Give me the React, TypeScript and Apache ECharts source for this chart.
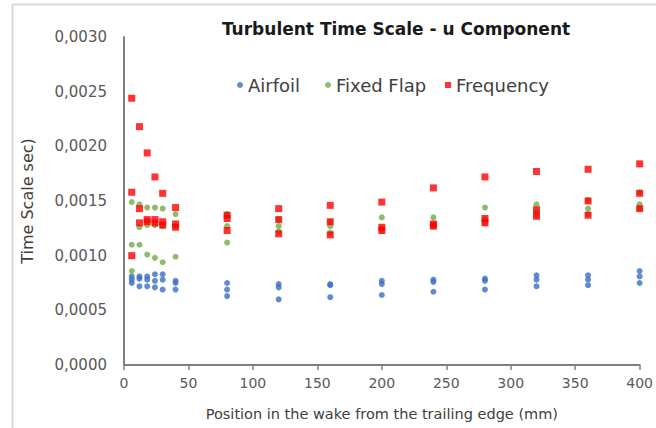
import React, { useEffect, useRef } from "react";
import * as echarts from "echarts";

const positions = [6, 12, 18, 24, 30, 40, 80, 120, 160, 200, 240, 280, 320, 360, 400];

const airfoilA = [0.00081, 0.00081, 0.00081, 0.00083, 0.00083, 0.00077, 0.00075, 0.00074, 0.00074, 0.00077, 0.00078, 0.00079, 0.00082, 0.00082, 0.00086];
const airfoilB = [0.00078, 0.00079, 0.00078, 0.00077, 0.00078, 0.00075, 0.00069, 0.00071, 0.00073, 0.00074, 0.00076, 0.00077, 0.00078, 0.00078, 0.00081];
const airfoilC = [0.00075, 0.00072, 0.00072, 0.00071, 0.00069, 0.00069, 0.00063, 0.0006, 0.00062, 0.00064, 0.00067, 0.00069, 0.00072, 0.00073, 0.00075];

const flapA = [0.00149, 0.00147, 0.00144, 0.00144, 0.00143, 0.00138, 0.00138, 0.00133, 0.00131, 0.00135, 0.00135, 0.00144, 0.00147, 0.00151, 0.00158];
const flapB = [0.0011, 0.00126, 0.00128, 0.00128, 0.00127, 0.00127, 0.00127, 0.00127, 0.00127, 0.00125, 0.00129, 0.00133, 0.0014, 0.00143, 0.00147];
const flapC = [0.00086, 0.0011, 0.00101, 0.00098, 0.00094, 0.00099, 0.00112, 0.00122, 0.00121, 0.00123, 0.00127, 0.0013, 0.00137, 0.00138, 0.00143];

const freqA = [0.00244, 0.00218, 0.00194, 0.00172, 0.00157, 0.00144, 0.00137, 0.00143, 0.00146, 0.00149, 0.00162, 0.00172, 0.00177, 0.00179, 0.00184];
const freqB = [0.00158, 0.00143, 0.00133, 0.00133, 0.00131, 0.00129, 0.00134, 0.00133, 0.00131, 0.00126, 0.00129, 0.00134, 0.00142, 0.0015, 0.00157];
const freqC = [0.001, 0.0013, 0.00131, 0.0013, 0.00128, 0.00126, 0.00123, 0.0012, 0.00119, 0.00123, 0.00127, 0.0013, 0.00136, 0.00137, 0.00143];

const seriesNames = ["Airfoil", "Fixed Flap", "Frequency"];
const yTicks = { min: 0, max: 0.003, interval: 0.0005 };
const xTicks = { min: 0, max: 400, interval: 50 };

const pairs = (...lists: number[][]) => {
  const out: number[][] = [];
  lists.forEach((l) => l.forEach((v, i) => out.push([positions[i], v])));
  return out;
};

export default function App() {
  const ref = useRef<HTMLDivElement>(null);
  useEffect(() => {
    if (!ref.current) return;
    const chart = echarts.init(ref.current, null, { renderer: "svg" });
    const font = "'DejaVu Sans', sans-serif";
    const legendLefts = [232, 320, 440];
    chart.setOption({
      animation: false,
      backgroundColor: "#ffffff",
      textStyle: { fontFamily: font },
      title: {
        text: "Turbulent Time Scale - u Component",
        left: 391,
        textAlign: "center",
        top: 15,
        textStyle: { fontSize: 17, fontWeight: "bold", color: "#1a1a1a", fontFamily: font },
      },
      legend: seriesNames.map((name, i) => ({
        data: [name],
        left: legendLefts[i],
        top: 71,
        itemWidth: 6,
        itemHeight: 6,
        textStyle: { fontSize: 18, color: "#404040", fontFamily: font },
      })),
      grid: { left: 124, right: 14, top: 37, bottom: 63 },
      xAxis: {
        type: "value",
        min: xTicks.min,
        max: xTicks.max,
        interval: xTicks.interval,
        name: "Position in the wake from the trailing edge (mm)",
        nameLocation: "middle",
        nameGap: 41,
        nameTextStyle: { fontSize: 14.5, color: "#404040" },
        axisLine: { lineStyle: { color: "#7f7f7f", width: 2 } },
        axisTick: { show: true, length: 5, lineStyle: { color: "#7f7f7f", width: 1.5 } },
        axisLabel: { fontSize: 14, color: "#595959", margin: 11 },
        splitLine: { show: false },
      },
      yAxis: {
        type: "value",
        min: yTicks.min,
        max: yTicks.max,
        interval: yTicks.interval,
        name: "Time Scale sec)",
        nameLocation: "middle",
        nameGap: 89,
        nameTextStyle: { fontSize: 16, color: "#404040" },
        axisLine: { show: true, lineStyle: { color: "#7f7f7f", width: 2 } },
        axisTick: { show: false },
        axisLabel: {
          fontSize: 15,
          color: "#595959",
          margin: 17,
          formatter: (v: number) => v.toFixed(4).replace(".", ","),
        },
        splitLine: { show: false },
      },
      graphic: [
        { type: "line", shape: { x1: 12.5, y1: 4, x2: 12.5, y2: 428 }, style: { stroke: "#d9d9d9", lineWidth: 2 } },
        { type: "line", shape: { x1: 12, y1: 4.5, x2: 656, y2: 4.5 }, style: { stroke: "#d9d9d9", lineWidth: 2 } },
      ],
      series: [
        {
          name: seriesNames[0],
          type: "scatter",
          symbol: "circle",
          symbolSize: 6,
          itemStyle: { color: "#3a6fc4" },
          data: pairs(airfoilA, airfoilB, airfoilC),
        },
        {
          name: seriesNames[1],
          type: "scatter",
          symbol: "circle",
          symbolSize: 6,
          itemStyle: { color: "#70ad47" },
          data: pairs(flapA, flapB, flapC),
        },
        {
          name: seriesNames[2],
          type: "scatter",
          symbol: "rect",
          symbolSize: 7,
          itemStyle: { color: "#ff0000" },
          data: pairs(freqA, freqB, freqC),
        },
      ],
    });
    return () => chart.dispose();
  }, []);
  return (
    <div
      ref={ref}
      style={{ position: "fixed", left: 0, top: 0, width: 656, height: 428 }}
    />
  );
}
